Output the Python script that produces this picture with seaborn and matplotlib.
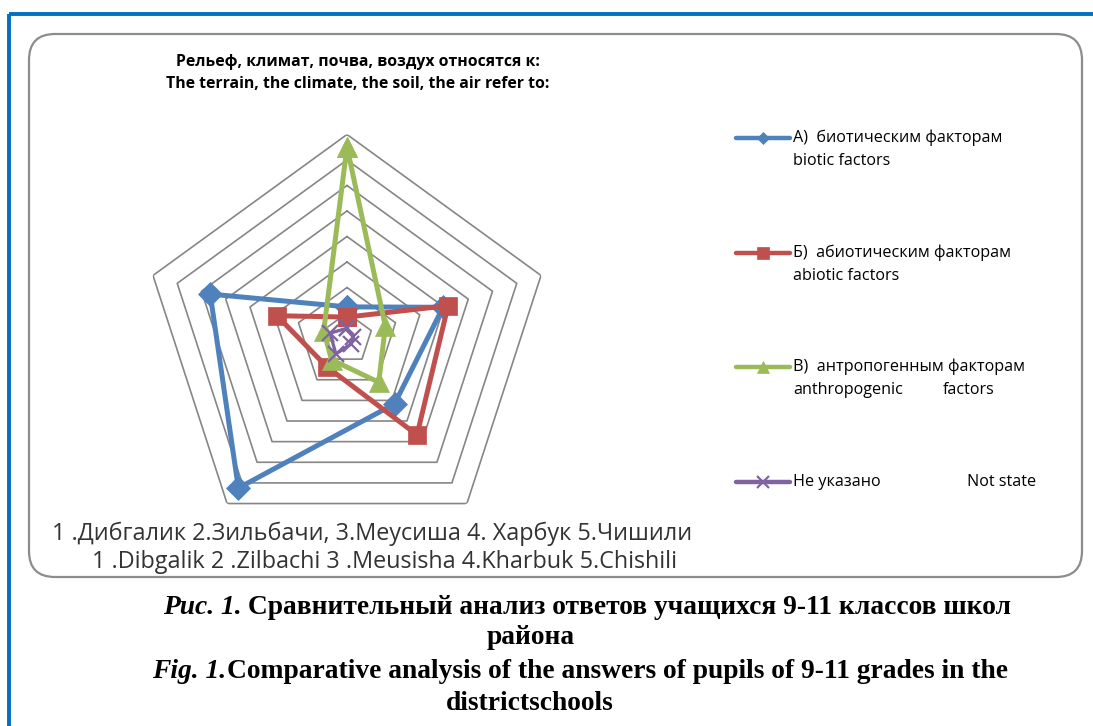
import numpy as np
import pandas as pd
import matplotlib.pyplot as plt
import seaborn as sns
from matplotlib.patches import FancyBboxPatch
from matplotlib.lines import Line2D

# Data (schools 1..5, clockwise from the top)
schools = ["1", "2", "3", "4", "5"]
biotic = [12.4, 39.6, 31.7, 72.5, 56.4]
abiotic = [8.4, 41.7, 46.7, 13.6, 28.9]
anthropogenic = [75.1, 15.8, 21.2, 10.3, 9.6]
not_stated = [4.0, 2.5, 2.7, 7.5, 6.9]
ring_levels = [10, 20, 30, 40, 50, 60, 70, 80]

series_values = [biotic, abiotic, anthropogenic, not_stated]
colors = ["#4F81BD", "#C0504D", "#9BBB59", "#8064A2"]
markers = ["D", "s", "^", "x"]
msizes = [12, 13, 14, 12]

sns.set_theme(style="white")
plt.rcParams['font.family'] = ['Open Sans', 'DejaVu Sans']
plt.rcParams['text.color'] = 'black'

W, H = 1093, 726
fig = plt.figure(figsize=(W / 100, H / 100), dpi=100)

# pixel overlay for frame, texts and legend
bg = fig.add_axes([0, 0, 1, 1])
bg.set_xlim(0, W)
bg.set_ylim(H, 0)
bg.axis("off")

bg.plot([9, W], [13.5, 13.5], color="#0070C0", lw=2.8, solid_capstyle="butt")
bg.plot([9, 9], [13.5, H], color="#0070C0", lw=2.8, solid_capstyle="butt")
box = FancyBboxPatch((29, 34), 1053, 543, boxstyle="round,pad=0,rounding_size=26",
                     fc="white", ec="#8c8c8c", lw=1.6)
bg.add_patch(box)

bg.text(358, 62, "Рельеф, климат, почва, воздух относятся к:", ha="center", va="center",
        fontsize=11.3, fontweight="bold")
bg.text(358, 84, "The terrain, the climate, the soil, the air refer to:", ha="center", va="center",
        fontsize=11.3, fontweight="bold")

# legend, drawn by hand to keep the handle on the first text line
leg_rows = [(138, "А)  биотическим факторам", "biotic factors", None),
            (253, "Б)  абиотическим факторам", "abiotic factors", None),
            (367, "В)  антропогенным факторам", "anthropogenic", "factors"),
            (482, "Не указано", None, "Not state")]
leg_ms = [6, 9, 8, 9]
for i, (y, l1, l2, extra) in enumerate(leg_rows):
    bg.add_line(Line2D([736, 763, 790], [y, y, y], color=colors[i], lw=3.2, marker=markers[i],
                       markersize=leg_ms[i], markevery=[1], solid_capstyle="round",
                       markeredgewidth=1.6 if markers[i] == "x" else 0.5,
                       markeredgecolor=colors[i]))
    bg.text(793, y, l1, ha="left", va="center", fontsize=11.6)
    if l2:
        bg.text(793, y + 23, l2, ha="left", va="center", fontsize=11.6)
    if extra == "factors":
        bg.text(943, y + 23, extra, ha="left", va="center", fontsize=11.6)
    elif extra:
        bg.text(967, y, extra, ha="left", va="center", fontsize=11.6)

bg.text(52, 534, "1 .Дибгалик 2.Зильбачи, 3.Меусиша 4. Харбук 5.Чишили", ha="left",
        va="center", fontsize=16.8, color="#333333")
bg.text(92, 562, "1 .Dibgalik 2 .Zilbachi 3 .Meusisha 4.Kharbuk 5.Chishili", ha="left",
        va="center", fontsize=16.8, color="#333333")

# caption: italic lead-in followed by bold text, centred as one line
renderer = fig.canvas.get_renderer()
cap = dict(va="center", fontsize=19.8, family="Liberation Serif", fontweight="bold")


def caption_line(xc, y, lead, rest):
    a = bg.text(0, y, lead, ha="left", style="italic", **cap)
    b = bg.text(0, y, rest, ha="left", **cap)
    wa = a.get_window_extent(renderer).width
    wb = b.get_window_extent(renderer).width
    x0 = xc - (wa + wb) / 2
    a.set_x(x0)
    b.set_x(x0 + wa)


caption_line(587, 607, "Рис. 1.", " Сравнительный анализ ответов учащихся 9-11 классов школ")
bg.text(531, 638, "района", ha="center", **cap)
caption_line(580, 672, "Fig. 1.", "Comparative analysis of the answers of pupils of 9-11 grades in the")
bg.text(530, 704, "districtschools", ha="center", **cap)

# radar chart
cx, cy, R = 347, 338.5, 204
ax = fig.add_axes([(cx - R) / W, (H - cy - R) / H, 2 * R / W, 2 * R / H], projection="polar")
ax.set_theta_offset(np.pi / 2)
ax.set_theta_direction(-1)
ax.patch.set_alpha(0)
ax.set_ylim(0, ring_levels[-1])
ax.grid(False)
ax.spines["polar"].set_visible(False)
ax.set_xticks([])
ax.set_yticks([])

theta = np.linspace(0, 2 * np.pi, len(schools), endpoint=False)
theta_c = np.append(theta, theta[0] + 2 * np.pi)
for lev in ring_levels:
    ax.plot(theta_c, [lev] * len(theta_c), color="#868686", lw=1.2, zorder=1)

for i, vals in enumerate(series_values):
    df = pd.DataFrame({"theta": theta_c, "value": vals + vals[:1]})
    sns.lineplot(data=df, x="theta", y="value", ax=ax, sort=False, errorbar=None,
                 color=colors[i], lw=3.6 if i < 3 else 2.4, marker=markers[i],
                 markersize=msizes[i], markeredgecolor=colors[i],
                 markeredgewidth=1.6 if markers[i] == "x" else 0.5,
                 legend=False, zorder=3 + i, clip_on=False)
ax.set_xlabel("")
ax.set_ylabel("")

fig.savefig("out.png", dpi=100)
